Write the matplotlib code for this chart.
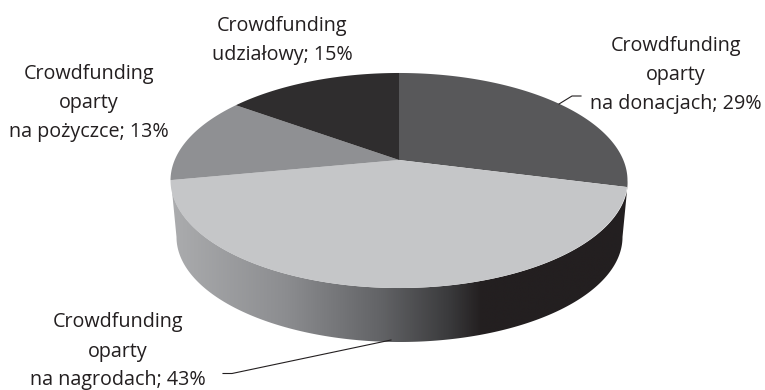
import numpy as np
import matplotlib
matplotlib.use("Agg")
import matplotlib.pyplot as plt
from matplotlib.colors import LinearSegmentedColormap
from matplotlib.patches import Polygon
from matplotlib.path import Path
from matplotlib.transforms import Transform

# --- data ---
categories = ["donacje", "nagrody", "pozyczki", "udzialy"]
shares = [29, 43, 13, 15]
label_texts = [
    "Crowdfunding\noparty\nna donacjach; 29%",
    "Crowdfunding\noparty\nna nagrodach; 43%",
    "Crowdfunding\noparty\nna pożyczce; 13%",
    "Crowdfunding\nudziałowy; 15%",
]
slice_colors = ["#58585a", "#c5c6c8", "#8f9093", "#2f2d2e"]

plt.rcParams["font.family"] = ["Open Sans", "DejaVu Sans"]
W, H = 765, 390
CX, CY, K = 399.0, 160.0, 224.3
PERSP_A, PERSP_C = -73.1, 0.1907
FS = 14.2


def project(xy):
    """Perspective view of the unit disc, in image pixels."""
    xy = np.asarray(xy, float)
    d = 1 + PERSP_C * xy[:, 1]
    return np.column_stack((CX + K * xy[:, 0] / d, (PERSP_A * xy[:, 1] + CY) / d))


class Perspective(Transform):
    input_dims = output_dims = 2
    is_affine = False
    has_inverse = False

    def transform_non_affine(self, values):
        return project(values)

    def transform_path_non_affine(self, path):
        scaled = Path(path.vertices * 2000, path.codes)
        pts = np.vstack(scaled.to_polygons(closed_only=True)) / 2000
        return Path(project(pts))


fig = plt.figure(figsize=(W / 100, H / 100), dpi=100)
ax = fig.add_axes([0, 0, 1, 1])

# side wall: outline between the rim's front arc and the base's front arc
t = np.linspace(0, np.pi, 300)
rim = np.column_stack((399.5 - 228.5 * np.cos(t), 180.5 + 107.5 * np.sin(t)))
base = np.column_stack((399.5 + 223 * np.cos(t), 237 + 105 * np.sin(t)))
wall = Polygon(np.vstack((rim, base)), closed=True, transform=ax.transData,
               facecolor="none", edgecolor="none")
ax.add_patch(wall)
stops = [(0.0, "#abacae"), (0.25, "#8c8d90"), (0.46, "#626366"),
         (0.61, "#3a3a3c"), (0.68, "#231f20"), (1.0, "#231f20")]
cmap = LinearSegmentedColormap.from_list("wall", stops)
img = ax.imshow(np.linspace(0, 1, 512)[None, :], cmap=cmap, aspect="auto",
                extent=(171, 628, 345, 170), zorder=1, interpolation="bilinear")
img.set_clip_path(wall)

# top face
wedges, _ = ax.pie(shares, colors=slice_colors, startangle=90, counterclock=False,
                   wedgeprops={"linewidth": 0, "zorder": 2})
for w in wedges:
    w.set_transform(Perspective() + ax.transData)
    w.set_clip_on(False)

ax.set_aspect("auto")
ax.set_xlim(0, W)
ax.set_ylim(H, 0)
ax.axis("off")

# labels
label_pos = [(676, 75), (118, 351.5), (89, 103), (282, 40.5)]
for txt, (x, y) in zip(label_texts, label_pos):
    ax.text(x, y, txt, ha="center", va="center", fontsize=FS, color="#231f20",
            linespacing=1.6, zorder=4)

# leader lines
ax.plot([559, 572, 581], [104, 96, 96], color="#231f20", lw=0.8, zorder=3)
ax.plot([391, 232, 223], [340, 373.5, 373.5], color="#231f20", lw=0.8, zorder=3)

fig.savefig("out.png", dpi=100)
